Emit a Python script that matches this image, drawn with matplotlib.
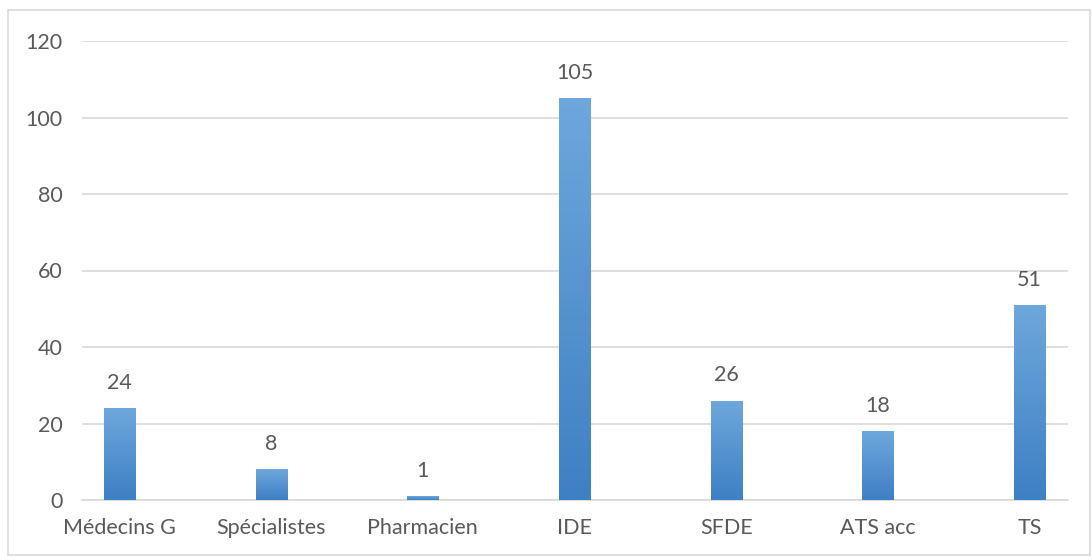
import matplotlib.pyplot as plt
import numpy as np
from matplotlib.colors import LinearSegmentedColormap
from matplotlib.patches import Rectangle

categories = ['Médecins G', 'Spécialistes', 'Pharmacien', 'IDE', 'SFDE', 'ATS acc', 'TS']
values = [24, 8, 1, 105, 26, 18, 51]
yticks = [0, 20, 40, 60, 80, 100, 120]

text_col = '#595959'
grid_col = '#d9d9d9'
bar_cmap = LinearSegmentedColormap.from_list('bar', ['#3e80c4', '#6ea7dc'])

plt.rcParams['font.family'] = ['Lato', 'DejaVu Sans']

fig = plt.figure(figsize=(10.92, 5.6), dpi=100)
fig.patches.append(Rectangle((8 / 1092, 5 / 560), 1082 / 1092, 545 / 560,
                             transform=fig.transFigure, fill=False,
                             edgecolor='#d9d9d9', lw=1.2))
ax = fig.add_axes([82 / 1092, 60 / 560, 986 / 1092, 459 / 560])

x = np.arange(len(categories))
width = 0.205
grad = np.linspace(0, 1, 256).reshape(-1, 1)
for xi, v in zip(x, values):
    bar = ax.bar(xi, v, width=width, color='none', zorder=3)[0]
    im = ax.imshow(grad, cmap=bar_cmap, origin='lower', aspect='auto',
                   extent=[xi - width / 2, xi + width / 2, 0, v], zorder=3)
    im.set_clip_path(bar)
    ax.annotate(str(v), (xi, v), xytext=(0, 11), textcoords='offset points',
                ha='center', va='bottom', fontsize=15.5, color=text_col)

ax.set_xlim(-0.247, 6.253)
ax.set_ylim(0, 120)
ax.set_yticks(yticks)
ax.set_xticks(x)
ax.set_xticklabels(categories)
ax.yaxis.grid(True, color=grid_col, lw=1.2)
ax.set_axisbelow(True)
for s in ['top', 'right', 'left']:
    ax.spines[s].set_visible(False)
ax.spines['bottom'].set_color(grid_col)
ax.spines['bottom'].set_linewidth(1.2)
ax.tick_params(length=0, labelsize=15.5, colors=text_col)
ax.tick_params(axis='y', pad=14)
ax.tick_params(axis='x', pad=13)

fig.savefig('out.png', dpi=100)
